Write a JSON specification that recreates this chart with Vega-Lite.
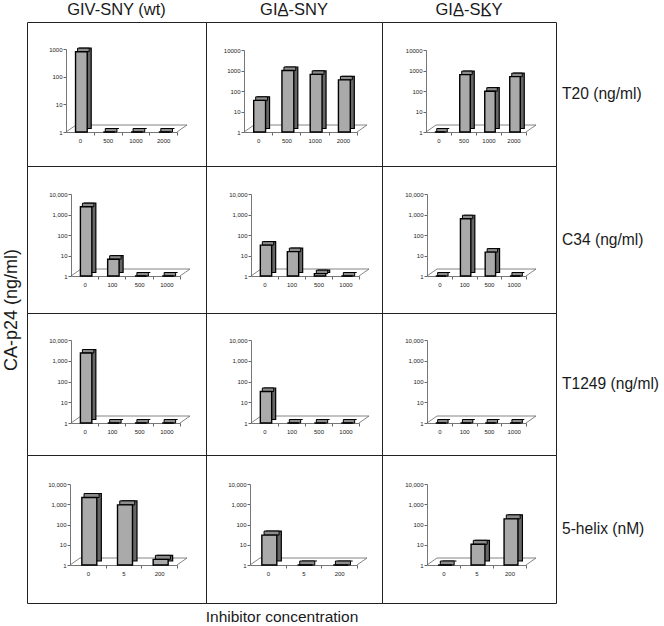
{
 "$schema": "https://vega.github.io/schema/vega-lite/v6.json",
 "padding": {"left": 2, "top": 1, "right": 0, "bottom": 0},
 "title": {"text": "CA-p24 (ng/ml)", "orient": "left", "anchor": "middle", "fontSize": 18, "fontWeight": "normal", "offset": 6, "dx": 4, "color": "#1a1a1a", "font": "Liberation Sans"},
 "datasets": {
  "d": [
   {"inh": "T20", "virus": "wt", "conc": "0", "p24": 800},
   {"inh": "T20", "virus": "wt", "conc": "500", "p24": 1},
   {"inh": "T20", "virus": "wt", "conc": "1000", "p24": 1},
   {"inh": "T20", "virus": "wt", "conc": "2000", "p24": 1},
   {"inh": "T20", "virus": "SNY", "conc": "0", "p24": 35},
   {"inh": "T20", "virus": "SNY", "conc": "500", "p24": 1000},
   {"inh": "T20", "virus": "SNY", "conc": "1000", "p24": 650},
   {"inh": "T20", "virus": "SNY", "conc": "2000", "p24": 350},
   {"inh": "T20", "virus": "SKY", "conc": "0", "p24": 1},
   {"inh": "T20", "virus": "SKY", "conc": "500", "p24": 630},
   {"inh": "T20", "virus": "SKY", "conc": "1000", "p24": 98},
   {"inh": "T20", "virus": "SKY", "conc": "2000", "p24": 500},
   {"inh": "C34", "virus": "wt", "conc": "0", "p24": 2400},
   {"inh": "C34", "virus": "wt", "conc": "100", "p24": 6.6},
   {"inh": "C34", "virus": "wt", "conc": "500", "p24": 1},
   {"inh": "C34", "virus": "wt", "conc": "1000", "p24": 1},
   {"inh": "C34", "virus": "SNY", "conc": "0", "p24": 32},
   {"inh": "C34", "virus": "SNY", "conc": "100", "p24": 15.5},
   {"inh": "C34", "virus": "SNY", "conc": "500", "p24": 1.3},
   {"inh": "C34", "virus": "SNY", "conc": "1000", "p24": 1},
   {"inh": "C34", "virus": "SKY", "conc": "0", "p24": 1},
   {"inh": "C34", "virus": "SKY", "conc": "100", "p24": 620},
   {"inh": "C34", "virus": "SKY", "conc": "500", "p24": 14.6},
   {"inh": "C34", "virus": "SKY", "conc": "1000", "p24": 1},
   {"inh": "T1249", "virus": "wt", "conc": "0", "p24": 2350},
   {"inh": "T1249", "virus": "wt", "conc": "100", "p24": 1},
   {"inh": "T1249", "virus": "wt", "conc": "500", "p24": 1},
   {"inh": "T1249", "virus": "wt", "conc": "1000", "p24": 1},
   {"inh": "T1249", "virus": "SNY", "conc": "0", "p24": 33},
   {"inh": "T1249", "virus": "SNY", "conc": "100", "p24": 1},
   {"inh": "T1249", "virus": "SNY", "conc": "500", "p24": 1},
   {"inh": "T1249", "virus": "SNY", "conc": "1000", "p24": 1},
   {"inh": "T1249", "virus": "SKY", "conc": "0", "p24": 1},
   {"inh": "T1249", "virus": "SKY", "conc": "100", "p24": 1},
   {"inh": "T1249", "virus": "SKY", "conc": "500", "p24": 1},
   {"inh": "T1249", "virus": "SKY", "conc": "1000", "p24": 1},
   {"inh": "5-helix", "virus": "wt", "conc": "0", "p24": 2150},
   {"inh": "5-helix", "virus": "wt", "conc": "5", "p24": 930},
   {"inh": "5-helix", "virus": "wt", "conc": "200", "p24": 1.9},
   {"inh": "5-helix", "virus": "SNY", "conc": "0", "p24": 30},
   {"inh": "5-helix", "virus": "SNY", "conc": "5", "p24": 1},
   {"inh": "5-helix", "virus": "SNY", "conc": "200", "p24": 1},
   {"inh": "5-helix", "virus": "SKY", "conc": "0", "p24": 1},
   {"inh": "5-helix", "virus": "SKY", "conc": "5", "p24": 10.5},
   {"inh": "5-helix", "virus": "SKY", "conc": "200", "p24": 190}
  ]
 },
 "columns": 4,
 "bounds": "flush",
 "spacing": 0,
 "align": "each",
 "concat": [
   {"width": 179, "height": 144, "title": {"text": "GIV-SNY (wt)"}, "data": {"name": "d"}, "transform": [{"filter": "datum.inh == 'T20' && datum.virus == 'wt'"}],
    "encoding": {
     "x": {"field": "conc", "type": "ordinal", "title": null, "scale": {"domain": ["0","500","1000","2000"], "range": [39,150], "paddingInner": 0, "paddingOuter": 0}, "axis": {"offset": -34, "tickOffset": 13.9, "labelOffset": -13.9}},
     "y": {"field": "p24", "type": "quantitative", "title": null, "scale": {"type": "log", "domain": [1,1000], "range": [110,27], "nice": false}, "axis": {"offset": -39, "values": [1,10,100,1000], "format": "d"}}},
    "layer": [
     {"transform": [{"filter": "datum.conc == '0'"}], "mark": {"type": "rule", "xOffset": 10, "x2Offset": 10, "yOffset": -7, "color": "#666", "strokeWidth": 0.8}, "encoding": {"x": {"datum": "0", "type": "ordinal", "bandPosition": 0, "title": null}, "x2": {"datum": "2000", "bandPosition": 1}, "y": {"datum": 1, "type": "quantitative", "title": null}}},
     {"transform": [{"filter": "datum.conc == '0'"}], "mark": {"type": "rule", "x2Offset": 10, "y2Offset": -7, "color": "#666", "strokeWidth": 0.8}, "encoding": {"x": {"datum": "0", "type": "ordinal", "bandPosition": 0, "title": null}, "x2": {"datum": "0", "bandPosition": 0}, "y": {"datum": 1, "type": "quantitative", "title": null}, "y2": {"datum": 1}}},
     {"transform": [{"filter": "datum.conc == '0'"}], "mark": {"type": "rule", "x2Offset": 10, "y2Offset": -7, "color": "#666", "strokeWidth": 0.8}, "encoding": {"x": {"datum": "2000", "type": "ordinal", "bandPosition": 1, "title": null}, "x2": {"datum": "2000", "bandPosition": 1}, "y": {"datum": 1, "type": "quantitative", "title": null}, "y2": {"datum": 1}}},
     {"mark": {"type": "bar", "width": {"band": 0.42}, "xOffset": 5.5, "yOffset": -3.5, "y2Offset": -3.5, "fill": "#666", "stroke": "#000", "strokeWidth": 1.2}, "encoding": {"y2": {"datum": 1}}},
     {"mark": {"type": "bar", "width": {"band": 0.42}, "xOffset": 3.5, "y2Offset": -3.5, "fill": "#8c8c8c", "stroke": "#000", "strokeWidth": 1}, "encoding": {"y2": {"field": "p24"}}},
     {"mark": {"type": "bar", "width": {"band": 0.42}, "xOffset": 1.5, "fill": "#aaa", "stroke": "#000", "strokeWidth": 1.4}, "encoding": {"y2": {"datum": 1}}}
    ]},
   {"width": 176, "height": 144, "title": {"text": "GIA̲-SNY"}, "data": {"name": "d"}, "transform": [{"filter": "datum.inh == 'T20' && datum.virus == 'SNY'"}],
    "encoding": {
     "x": {"field": "conc", "type": "ordinal", "title": null, "scale": {"domain": ["0","500","1000","2000"], "range": [38,151], "paddingInner": 0, "paddingOuter": 0}, "axis": {"offset": -34, "tickOffset": 14.1, "labelOffset": -14.1}},
     "y": {"field": "p24", "type": "quantitative", "title": null, "scale": {"type": "log", "domain": [1,10000], "range": [110,28], "nice": false}, "axis": {"offset": -38, "values": [1,10,100,1000,10000], "format": "d"}}},
    "layer": [
     {"transform": [{"filter": "datum.conc == '0'"}], "mark": {"type": "rule", "xOffset": 10, "x2Offset": 10, "yOffset": -7, "color": "#666", "strokeWidth": 0.8}, "encoding": {"x": {"datum": "0", "type": "ordinal", "bandPosition": 0, "title": null}, "x2": {"datum": "2000", "bandPosition": 1}, "y": {"datum": 1, "type": "quantitative", "title": null}}},
     {"transform": [{"filter": "datum.conc == '0'"}], "mark": {"type": "rule", "x2Offset": 10, "y2Offset": -7, "color": "#666", "strokeWidth": 0.8}, "encoding": {"x": {"datum": "0", "type": "ordinal", "bandPosition": 0, "title": null}, "x2": {"datum": "0", "bandPosition": 0}, "y": {"datum": 1, "type": "quantitative", "title": null}, "y2": {"datum": 1}}},
     {"transform": [{"filter": "datum.conc == '0'"}], "mark": {"type": "rule", "x2Offset": 10, "y2Offset": -7, "color": "#666", "strokeWidth": 0.8}, "encoding": {"x": {"datum": "2000", "type": "ordinal", "bandPosition": 1, "title": null}, "x2": {"datum": "2000", "bandPosition": 1}, "y": {"datum": 1, "type": "quantitative", "title": null}, "y2": {"datum": 1}}},
     {"mark": {"type": "bar", "width": {"band": 0.42}, "xOffset": 5.5, "yOffset": -3.5, "y2Offset": -3.5, "fill": "#666", "stroke": "#000", "strokeWidth": 1.2}, "encoding": {"y2": {"datum": 1}}},
     {"mark": {"type": "bar", "width": {"band": 0.42}, "xOffset": 3.5, "y2Offset": -3.5, "fill": "#8c8c8c", "stroke": "#000", "strokeWidth": 1}, "encoding": {"y2": {"field": "p24"}}},
     {"mark": {"type": "bar", "width": {"band": 0.42}, "xOffset": 1.5, "fill": "#aaa", "stroke": "#000", "strokeWidth": 1.4}, "encoding": {"y2": {"datum": 1}}}
    ]},
   {"width": 174, "height": 144, "title": {"text": "GIA̲-SK̲Y"}, "data": {"name": "d"}, "transform": [{"filter": "datum.inh == 'T20' && datum.virus == 'SKY'"}],
    "encoding": {
     "x": {"field": "conc", "type": "ordinal", "title": null, "scale": {"domain": ["0","500","1000","2000"], "range": [44,144], "paddingInner": 0, "paddingOuter": 0}, "axis": {"offset": -34, "tickOffset": 12.5, "labelOffset": -12.5}},
     "y": {"field": "p24", "type": "quantitative", "title": null, "scale": {"type": "log", "domain": [1,10000], "range": [110,28], "nice": false}, "axis": {"offset": -44, "values": [1,10,100,1000,10000], "format": "d"}}},
    "layer": [
     {"transform": [{"filter": "datum.conc == '0'"}], "mark": {"type": "rule", "xOffset": 10, "x2Offset": 10, "yOffset": -7, "color": "#666", "strokeWidth": 0.8}, "encoding": {"x": {"datum": "0", "type": "ordinal", "bandPosition": 0, "title": null}, "x2": {"datum": "2000", "bandPosition": 1}, "y": {"datum": 1, "type": "quantitative", "title": null}}},
     {"transform": [{"filter": "datum.conc == '0'"}], "mark": {"type": "rule", "x2Offset": 10, "y2Offset": -7, "color": "#666", "strokeWidth": 0.8}, "encoding": {"x": {"datum": "0", "type": "ordinal", "bandPosition": 0, "title": null}, "x2": {"datum": "0", "bandPosition": 0}, "y": {"datum": 1, "type": "quantitative", "title": null}, "y2": {"datum": 1}}},
     {"transform": [{"filter": "datum.conc == '0'"}], "mark": {"type": "rule", "x2Offset": 10, "y2Offset": -7, "color": "#666", "strokeWidth": 0.8}, "encoding": {"x": {"datum": "2000", "type": "ordinal", "bandPosition": 1, "title": null}, "x2": {"datum": "2000", "bandPosition": 1}, "y": {"datum": 1, "type": "quantitative", "title": null}, "y2": {"datum": 1}}},
     {"mark": {"type": "bar", "width": {"band": 0.42}, "xOffset": 5.5, "yOffset": -3.5, "y2Offset": -3.5, "fill": "#666", "stroke": "#000", "strokeWidth": 1.2}, "encoding": {"y2": {"datum": 1}}},
     {"mark": {"type": "bar", "width": {"band": 0.42}, "xOffset": 3.5, "y2Offset": -3.5, "fill": "#8c8c8c", "stroke": "#000", "strokeWidth": 1}, "encoding": {"y2": {"field": "p24"}}},
     {"mark": {"type": "bar", "width": {"band": 0.42}, "xOffset": 1.5, "fill": "#aaa", "stroke": "#000", "strokeWidth": 1.4}, "encoding": {"y2": {"datum": 1}}}
    ]},
   {"width": 105, "height": 144, "view": {"stroke": null}, "data": {"values": [{"label": "T20 (ng/ml)"}]}, "mark": {"type": "text", "fontSize": 15.6, "align": "left", "dx": -46.5}, "encoding": {"text": {"field": "label"}}},
   {"width": 179, "height": 147, "data": {"name": "d"}, "transform": [{"filter": "datum.inh == 'C34' && datum.virus == 'wt'"}],
    "encoding": {
     "x": {"field": "conc", "type": "ordinal", "title": null, "scale": {"domain": ["0","100","500","1000"], "range": [44,153], "paddingInner": 0, "paddingOuter": 0}, "axis": {"offset": -37, "tickOffset": 13.6, "labelOffset": -13.6}},
     "y": {"field": "p24", "type": "quantitative", "title": null, "scale": {"type": "log", "domain": [1,10000], "range": [110,28], "nice": false}, "axis": {"offset": -44, "values": [1,10,100,1000,10000], "format": ",d"}}},
    "layer": [
     {"transform": [{"filter": "datum.conc == '0'"}], "mark": {"type": "rule", "xOffset": 10, "x2Offset": 10, "yOffset": -7, "color": "#666", "strokeWidth": 0.8}, "encoding": {"x": {"datum": "0", "type": "ordinal", "bandPosition": 0, "title": null}, "x2": {"datum": "1000", "bandPosition": 1}, "y": {"datum": 1, "type": "quantitative", "title": null}}},
     {"transform": [{"filter": "datum.conc == '0'"}], "mark": {"type": "rule", "x2Offset": 10, "y2Offset": -7, "color": "#666", "strokeWidth": 0.8}, "encoding": {"x": {"datum": "0", "type": "ordinal", "bandPosition": 0, "title": null}, "x2": {"datum": "0", "bandPosition": 0}, "y": {"datum": 1, "type": "quantitative", "title": null}, "y2": {"datum": 1}}},
     {"transform": [{"filter": "datum.conc == '0'"}], "mark": {"type": "rule", "x2Offset": 10, "y2Offset": -7, "color": "#666", "strokeWidth": 0.8}, "encoding": {"x": {"datum": "1000", "type": "ordinal", "bandPosition": 1, "title": null}, "x2": {"datum": "1000", "bandPosition": 1}, "y": {"datum": 1, "type": "quantitative", "title": null}, "y2": {"datum": 1}}},
     {"mark": {"type": "bar", "width": {"band": 0.42}, "xOffset": 5.5, "yOffset": -3.5, "y2Offset": -3.5, "fill": "#666", "stroke": "#000", "strokeWidth": 1.2}, "encoding": {"y2": {"datum": 1}}},
     {"mark": {"type": "bar", "width": {"band": 0.42}, "xOffset": 3.5, "y2Offset": -3.5, "fill": "#8c8c8c", "stroke": "#000", "strokeWidth": 1}, "encoding": {"y2": {"field": "p24"}}},
     {"mark": {"type": "bar", "width": {"band": 0.42}, "xOffset": 1.5, "fill": "#aaa", "stroke": "#000", "strokeWidth": 1.4}, "encoding": {"y2": {"datum": 1}}}
    ]},
   {"width": 176, "height": 147, "data": {"name": "d"}, "transform": [{"filter": "datum.inh == 'C34' && datum.virus == 'SNY'"}],
    "encoding": {
     "x": {"field": "conc", "type": "ordinal", "title": null, "scale": {"domain": ["0","100","500","1000"], "range": [45,153], "paddingInner": 0, "paddingOuter": 0}, "axis": {"offset": -37, "tickOffset": 13.5, "labelOffset": -13.5}},
     "y": {"field": "p24", "type": "quantitative", "title": null, "scale": {"type": "log", "domain": [1,10000], "range": [110,28], "nice": false}, "axis": {"offset": -45, "values": [1,10,100,1000,10000], "format": ",d"}}},
    "layer": [
     {"transform": [{"filter": "datum.conc == '0'"}], "mark": {"type": "rule", "xOffset": 10, "x2Offset": 10, "yOffset": -7, "color": "#666", "strokeWidth": 0.8}, "encoding": {"x": {"datum": "0", "type": "ordinal", "bandPosition": 0, "title": null}, "x2": {"datum": "1000", "bandPosition": 1}, "y": {"datum": 1, "type": "quantitative", "title": null}}},
     {"transform": [{"filter": "datum.conc == '0'"}], "mark": {"type": "rule", "x2Offset": 10, "y2Offset": -7, "color": "#666", "strokeWidth": 0.8}, "encoding": {"x": {"datum": "0", "type": "ordinal", "bandPosition": 0, "title": null}, "x2": {"datum": "0", "bandPosition": 0}, "y": {"datum": 1, "type": "quantitative", "title": null}, "y2": {"datum": 1}}},
     {"transform": [{"filter": "datum.conc == '0'"}], "mark": {"type": "rule", "x2Offset": 10, "y2Offset": -7, "color": "#666", "strokeWidth": 0.8}, "encoding": {"x": {"datum": "1000", "type": "ordinal", "bandPosition": 1, "title": null}, "x2": {"datum": "1000", "bandPosition": 1}, "y": {"datum": 1, "type": "quantitative", "title": null}, "y2": {"datum": 1}}},
     {"mark": {"type": "bar", "width": {"band": 0.42}, "xOffset": 5.5, "yOffset": -3.5, "y2Offset": -3.5, "fill": "#666", "stroke": "#000", "strokeWidth": 1.2}, "encoding": {"y2": {"datum": 1}}},
     {"mark": {"type": "bar", "width": {"band": 0.42}, "xOffset": 3.5, "y2Offset": -3.5, "fill": "#8c8c8c", "stroke": "#000", "strokeWidth": 1}, "encoding": {"y2": {"field": "p24"}}},
     {"mark": {"type": "bar", "width": {"band": 0.42}, "xOffset": 1.5, "fill": "#aaa", "stroke": "#000", "strokeWidth": 1.4}, "encoding": {"y2": {"datum": 1}}}
    ]},
   {"width": 174, "height": 147, "data": {"name": "d"}, "transform": [{"filter": "datum.inh == 'C34' && datum.virus == 'SKY'"}],
    "encoding": {
     "x": {"field": "conc", "type": "ordinal", "title": null, "scale": {"domain": ["0","100","500","1000"], "range": [45,144], "paddingInner": 0, "paddingOuter": 0}, "axis": {"offset": -37, "tickOffset": 12.4, "labelOffset": -12.4}},
     "y": {"field": "p24", "type": "quantitative", "title": null, "scale": {"type": "log", "domain": [1,10000], "range": [110,28], "nice": false}, "axis": {"offset": -45, "values": [1,10,100,1000,10000], "format": ",d"}}},
    "layer": [
     {"transform": [{"filter": "datum.conc == '0'"}], "mark": {"type": "rule", "xOffset": 10, "x2Offset": 10, "yOffset": -7, "color": "#666", "strokeWidth": 0.8}, "encoding": {"x": {"datum": "0", "type": "ordinal", "bandPosition": 0, "title": null}, "x2": {"datum": "1000", "bandPosition": 1}, "y": {"datum": 1, "type": "quantitative", "title": null}}},
     {"transform": [{"filter": "datum.conc == '0'"}], "mark": {"type": "rule", "x2Offset": 10, "y2Offset": -7, "color": "#666", "strokeWidth": 0.8}, "encoding": {"x": {"datum": "0", "type": "ordinal", "bandPosition": 0, "title": null}, "x2": {"datum": "0", "bandPosition": 0}, "y": {"datum": 1, "type": "quantitative", "title": null}, "y2": {"datum": 1}}},
     {"transform": [{"filter": "datum.conc == '0'"}], "mark": {"type": "rule", "x2Offset": 10, "y2Offset": -7, "color": "#666", "strokeWidth": 0.8}, "encoding": {"x": {"datum": "1000", "type": "ordinal", "bandPosition": 1, "title": null}, "x2": {"datum": "1000", "bandPosition": 1}, "y": {"datum": 1, "type": "quantitative", "title": null}, "y2": {"datum": 1}}},
     {"mark": {"type": "bar", "width": {"band": 0.42}, "xOffset": 5.5, "yOffset": -3.5, "y2Offset": -3.5, "fill": "#666", "stroke": "#000", "strokeWidth": 1.2}, "encoding": {"y2": {"datum": 1}}},
     {"mark": {"type": "bar", "width": {"band": 0.42}, "xOffset": 3.5, "y2Offset": -3.5, "fill": "#8c8c8c", "stroke": "#000", "strokeWidth": 1}, "encoding": {"y2": {"field": "p24"}}},
     {"mark": {"type": "bar", "width": {"band": 0.42}, "xOffset": 1.5, "fill": "#aaa", "stroke": "#000", "strokeWidth": 1.4}, "encoding": {"y2": {"datum": 1}}}
    ]},
   {"width": 105, "height": 147, "view": {"stroke": null}, "data": {"values": [{"label": "C34 (ng/ml)"}]}, "mark": {"type": "text", "fontSize": 15.6, "align": "left", "dx": -46.5}, "encoding": {"text": {"field": "label"}}},
   {"width": 179, "height": 142, "data": {"name": "d"}, "transform": [{"filter": "datum.inh == 'T1249' && datum.virus == 'wt'"}],
    "encoding": {
     "x": {"field": "conc", "type": "ordinal", "title": null, "scale": {"domain": ["0","100","500","1000"], "range": [44,153], "paddingInner": 0, "paddingOuter": 0}, "axis": {"offset": -32, "tickOffset": 13.6, "labelOffset": -13.6}},
     "y": {"field": "p24", "type": "quantitative", "title": null, "scale": {"type": "log", "domain": [1,10000], "range": [110,27], "nice": false}, "axis": {"offset": -44, "values": [1,10,100,1000,10000], "format": ",d"}}},
    "layer": [
     {"transform": [{"filter": "datum.conc == '0'"}], "mark": {"type": "rule", "xOffset": 10, "x2Offset": 10, "yOffset": -7, "color": "#666", "strokeWidth": 0.8}, "encoding": {"x": {"datum": "0", "type": "ordinal", "bandPosition": 0, "title": null}, "x2": {"datum": "1000", "bandPosition": 1}, "y": {"datum": 1, "type": "quantitative", "title": null}}},
     {"transform": [{"filter": "datum.conc == '0'"}], "mark": {"type": "rule", "x2Offset": 10, "y2Offset": -7, "color": "#666", "strokeWidth": 0.8}, "encoding": {"x": {"datum": "0", "type": "ordinal", "bandPosition": 0, "title": null}, "x2": {"datum": "0", "bandPosition": 0}, "y": {"datum": 1, "type": "quantitative", "title": null}, "y2": {"datum": 1}}},
     {"transform": [{"filter": "datum.conc == '0'"}], "mark": {"type": "rule", "x2Offset": 10, "y2Offset": -7, "color": "#666", "strokeWidth": 0.8}, "encoding": {"x": {"datum": "1000", "type": "ordinal", "bandPosition": 1, "title": null}, "x2": {"datum": "1000", "bandPosition": 1}, "y": {"datum": 1, "type": "quantitative", "title": null}, "y2": {"datum": 1}}},
     {"mark": {"type": "bar", "width": {"band": 0.42}, "xOffset": 5.5, "yOffset": -3.5, "y2Offset": -3.5, "fill": "#666", "stroke": "#000", "strokeWidth": 1.2}, "encoding": {"y2": {"datum": 1}}},
     {"mark": {"type": "bar", "width": {"band": 0.42}, "xOffset": 3.5, "y2Offset": -3.5, "fill": "#8c8c8c", "stroke": "#000", "strokeWidth": 1}, "encoding": {"y2": {"field": "p24"}}},
     {"mark": {"type": "bar", "width": {"band": 0.42}, "xOffset": 1.5, "fill": "#aaa", "stroke": "#000", "strokeWidth": 1.4}, "encoding": {"y2": {"datum": 1}}}
    ]},
   {"width": 176, "height": 142, "data": {"name": "d"}, "transform": [{"filter": "datum.inh == 'T1249' && datum.virus == 'SNY'"}],
    "encoding": {
     "x": {"field": "conc", "type": "ordinal", "title": null, "scale": {"domain": ["0","100","500","1000"], "range": [45,153], "paddingInner": 0, "paddingOuter": 0}, "axis": {"offset": -32, "tickOffset": 13.5, "labelOffset": -13.5}},
     "y": {"field": "p24", "type": "quantitative", "title": null, "scale": {"type": "log", "domain": [1,10000], "range": [110,27], "nice": false}, "axis": {"offset": -45, "values": [1,10,100,1000,10000], "format": ",d"}}},
    "layer": [
     {"transform": [{"filter": "datum.conc == '0'"}], "mark": {"type": "rule", "xOffset": 10, "x2Offset": 10, "yOffset": -7, "color": "#666", "strokeWidth": 0.8}, "encoding": {"x": {"datum": "0", "type": "ordinal", "bandPosition": 0, "title": null}, "x2": {"datum": "1000", "bandPosition": 1}, "y": {"datum": 1, "type": "quantitative", "title": null}}},
     {"transform": [{"filter": "datum.conc == '0'"}], "mark": {"type": "rule", "x2Offset": 10, "y2Offset": -7, "color": "#666", "strokeWidth": 0.8}, "encoding": {"x": {"datum": "0", "type": "ordinal", "bandPosition": 0, "title": null}, "x2": {"datum": "0", "bandPosition": 0}, "y": {"datum": 1, "type": "quantitative", "title": null}, "y2": {"datum": 1}}},
     {"transform": [{"filter": "datum.conc == '0'"}], "mark": {"type": "rule", "x2Offset": 10, "y2Offset": -7, "color": "#666", "strokeWidth": 0.8}, "encoding": {"x": {"datum": "1000", "type": "ordinal", "bandPosition": 1, "title": null}, "x2": {"datum": "1000", "bandPosition": 1}, "y": {"datum": 1, "type": "quantitative", "title": null}, "y2": {"datum": 1}}},
     {"mark": {"type": "bar", "width": {"band": 0.42}, "xOffset": 5.5, "yOffset": -3.5, "y2Offset": -3.5, "fill": "#666", "stroke": "#000", "strokeWidth": 1.2}, "encoding": {"y2": {"datum": 1}}},
     {"mark": {"type": "bar", "width": {"band": 0.42}, "xOffset": 3.5, "y2Offset": -3.5, "fill": "#8c8c8c", "stroke": "#000", "strokeWidth": 1}, "encoding": {"y2": {"field": "p24"}}},
     {"mark": {"type": "bar", "width": {"band": 0.42}, "xOffset": 1.5, "fill": "#aaa", "stroke": "#000", "strokeWidth": 1.4}, "encoding": {"y2": {"datum": 1}}}
    ]},
   {"width": 174, "height": 142, "data": {"name": "d"}, "transform": [{"filter": "datum.inh == 'T1249' && datum.virus == 'SKY'"}],
    "encoding": {
     "x": {"field": "conc", "type": "ordinal", "title": null, "scale": {"domain": ["0","100","500","1000"], "range": [45,144], "paddingInner": 0, "paddingOuter": 0}, "axis": {"offset": -32, "tickOffset": 12.4, "labelOffset": -12.4}},
     "y": {"field": "p24", "type": "quantitative", "title": null, "scale": {"type": "log", "domain": [1,10000], "range": [110,27], "nice": false}, "axis": {"offset": -45, "values": [1,10,100,1000,10000], "format": ",d"}}},
    "layer": [
     {"transform": [{"filter": "datum.conc == '0'"}], "mark": {"type": "rule", "xOffset": 10, "x2Offset": 10, "yOffset": -7, "color": "#666", "strokeWidth": 0.8}, "encoding": {"x": {"datum": "0", "type": "ordinal", "bandPosition": 0, "title": null}, "x2": {"datum": "1000", "bandPosition": 1}, "y": {"datum": 1, "type": "quantitative", "title": null}}},
     {"transform": [{"filter": "datum.conc == '0'"}], "mark": {"type": "rule", "x2Offset": 10, "y2Offset": -7, "color": "#666", "strokeWidth": 0.8}, "encoding": {"x": {"datum": "0", "type": "ordinal", "bandPosition": 0, "title": null}, "x2": {"datum": "0", "bandPosition": 0}, "y": {"datum": 1, "type": "quantitative", "title": null}, "y2": {"datum": 1}}},
     {"transform": [{"filter": "datum.conc == '0'"}], "mark": {"type": "rule", "x2Offset": 10, "y2Offset": -7, "color": "#666", "strokeWidth": 0.8}, "encoding": {"x": {"datum": "1000", "type": "ordinal", "bandPosition": 1, "title": null}, "x2": {"datum": "1000", "bandPosition": 1}, "y": {"datum": 1, "type": "quantitative", "title": null}, "y2": {"datum": 1}}},
     {"mark": {"type": "bar", "width": {"band": 0.42}, "xOffset": 5.5, "yOffset": -3.5, "y2Offset": -3.5, "fill": "#666", "stroke": "#000", "strokeWidth": 1.2}, "encoding": {"y2": {"datum": 1}}},
     {"mark": {"type": "bar", "width": {"band": 0.42}, "xOffset": 3.5, "y2Offset": -3.5, "fill": "#8c8c8c", "stroke": "#000", "strokeWidth": 1}, "encoding": {"y2": {"field": "p24"}}},
     {"mark": {"type": "bar", "width": {"band": 0.42}, "xOffset": 1.5, "fill": "#aaa", "stroke": "#000", "strokeWidth": 1.4}, "encoding": {"y2": {"datum": 1}}}
    ]},
   {"width": 105, "height": 142, "view": {"stroke": null}, "data": {"values": [{"label": "T1249 (ng/ml)"}]}, "mark": {"type": "text", "fontSize": 15.6, "align": "left", "dx": -46.5}, "encoding": {"text": {"field": "label"}}},
   {"width": 179, "height": 148, "data": {"name": "d"}, "transform": [{"filter": "datum.inh == '5-helix' && datum.virus == 'wt'"}],
    "encoding": {
     "x": {"field": "conc", "type": "ordinal", "title": null, "scale": {"domain": ["0","5","200"], "range": [43,150], "paddingInner": 0, "paddingOuter": 0}, "axis": {"offset": -38, "tickOffset": 17.8, "labelOffset": -17.8}},
     "y": {"field": "p24", "type": "quantitative", "title": null, "scale": {"type": "log", "domain": [1,10000], "range": [110,29], "nice": false}, "axis": {"offset": -43, "values": [1,10,100,1000,10000], "format": ",d"}}},
    "layer": [
     {"transform": [{"filter": "datum.conc == '0'"}], "mark": {"type": "rule", "xOffset": 10, "x2Offset": 10, "yOffset": -7, "color": "#666", "strokeWidth": 0.8}, "encoding": {"x": {"datum": "0", "type": "ordinal", "bandPosition": 0, "title": null}, "x2": {"datum": "200", "bandPosition": 1}, "y": {"datum": 1, "type": "quantitative", "title": null}}},
     {"transform": [{"filter": "datum.conc == '0'"}], "mark": {"type": "rule", "x2Offset": 10, "y2Offset": -7, "color": "#666", "strokeWidth": 0.8}, "encoding": {"x": {"datum": "0", "type": "ordinal", "bandPosition": 0, "title": null}, "x2": {"datum": "0", "bandPosition": 0}, "y": {"datum": 1, "type": "quantitative", "title": null}, "y2": {"datum": 1}}},
     {"transform": [{"filter": "datum.conc == '0'"}], "mark": {"type": "rule", "x2Offset": 10, "y2Offset": -7, "color": "#666", "strokeWidth": 0.8}, "encoding": {"x": {"datum": "200", "type": "ordinal", "bandPosition": 1, "title": null}, "x2": {"datum": "200", "bandPosition": 1}, "y": {"datum": 1, "type": "quantitative", "title": null}, "y2": {"datum": 1}}},
     {"mark": {"type": "bar", "width": {"band": 0.42}, "xOffset": 6, "yOffset": -4, "y2Offset": -4, "fill": "#666", "stroke": "#000", "strokeWidth": 1.2}, "encoding": {"y2": {"datum": 1}}},
     {"mark": {"type": "bar", "width": {"band": 0.42}, "xOffset": 3.75, "y2Offset": -4, "fill": "#8c8c8c", "stroke": "#000", "strokeWidth": 1}, "encoding": {"y2": {"field": "p24"}}},
     {"mark": {"type": "bar", "width": {"band": 0.42}, "xOffset": 1.5, "fill": "#aaa", "stroke": "#000", "strokeWidth": 1.4}, "encoding": {"y2": {"datum": 1}}}
    ]},
   {"width": 176, "height": 148, "data": {"name": "d"}, "transform": [{"filter": "datum.inh == '5-helix' && datum.virus == 'SNY'"}],
    "encoding": {
     "x": {"field": "conc", "type": "ordinal", "title": null, "scale": {"domain": ["0","5","200"], "range": [44,151], "paddingInner": 0, "paddingOuter": 0}, "axis": {"offset": -38, "tickOffset": 17.8, "labelOffset": -17.8}},
     "y": {"field": "p24", "type": "quantitative", "title": null, "scale": {"type": "log", "domain": [1,10000], "range": [110,29], "nice": false}, "axis": {"offset": -44, "values": [1,10,100,1000,10000], "format": ",d"}}},
    "layer": [
     {"transform": [{"filter": "datum.conc == '0'"}], "mark": {"type": "rule", "xOffset": 10, "x2Offset": 10, "yOffset": -7, "color": "#666", "strokeWidth": 0.8}, "encoding": {"x": {"datum": "0", "type": "ordinal", "bandPosition": 0, "title": null}, "x2": {"datum": "200", "bandPosition": 1}, "y": {"datum": 1, "type": "quantitative", "title": null}}},
     {"transform": [{"filter": "datum.conc == '0'"}], "mark": {"type": "rule", "x2Offset": 10, "y2Offset": -7, "color": "#666", "strokeWidth": 0.8}, "encoding": {"x": {"datum": "0", "type": "ordinal", "bandPosition": 0, "title": null}, "x2": {"datum": "0", "bandPosition": 0}, "y": {"datum": 1, "type": "quantitative", "title": null}, "y2": {"datum": 1}}},
     {"transform": [{"filter": "datum.conc == '0'"}], "mark": {"type": "rule", "x2Offset": 10, "y2Offset": -7, "color": "#666", "strokeWidth": 0.8}, "encoding": {"x": {"datum": "200", "type": "ordinal", "bandPosition": 1, "title": null}, "x2": {"datum": "200", "bandPosition": 1}, "y": {"datum": 1, "type": "quantitative", "title": null}, "y2": {"datum": 1}}},
     {"mark": {"type": "bar", "width": {"band": 0.42}, "xOffset": 6, "yOffset": -4, "y2Offset": -4, "fill": "#666", "stroke": "#000", "strokeWidth": 1.2}, "encoding": {"y2": {"datum": 1}}},
     {"mark": {"type": "bar", "width": {"band": 0.42}, "xOffset": 3.75, "y2Offset": -4, "fill": "#8c8c8c", "stroke": "#000", "strokeWidth": 1}, "encoding": {"y2": {"field": "p24"}}},
     {"mark": {"type": "bar", "width": {"band": 0.42}, "xOffset": 1.5, "fill": "#aaa", "stroke": "#000", "strokeWidth": 1.4}, "encoding": {"y2": {"datum": 1}}}
    ]},
   {"width": 174, "height": 148, "data": {"name": "d"}, "transform": [{"filter": "datum.inh == '5-helix' && datum.virus == 'SKY'"}],
    "encoding": {
     "x": {"field": "conc", "type": "ordinal", "title": null, "scale": {"domain": ["0","5","200"], "range": [45,144], "paddingInner": 0, "paddingOuter": 0}, "axis": {"offset": -38, "tickOffset": 16.5, "labelOffset": -16.5}},
     "y": {"field": "p24", "type": "quantitative", "title": null, "scale": {"type": "log", "domain": [1,10000], "range": [110,29], "nice": false}, "axis": {"offset": -45, "values": [1,10,100,1000,10000], "format": ",d"}}},
    "layer": [
     {"transform": [{"filter": "datum.conc == '0'"}], "mark": {"type": "rule", "xOffset": 10, "x2Offset": 10, "yOffset": -7, "color": "#666", "strokeWidth": 0.8}, "encoding": {"x": {"datum": "0", "type": "ordinal", "bandPosition": 0, "title": null}, "x2": {"datum": "200", "bandPosition": 1}, "y": {"datum": 1, "type": "quantitative", "title": null}}},
     {"transform": [{"filter": "datum.conc == '0'"}], "mark": {"type": "rule", "x2Offset": 10, "y2Offset": -7, "color": "#666", "strokeWidth": 0.8}, "encoding": {"x": {"datum": "0", "type": "ordinal", "bandPosition": 0, "title": null}, "x2": {"datum": "0", "bandPosition": 0}, "y": {"datum": 1, "type": "quantitative", "title": null}, "y2": {"datum": 1}}},
     {"transform": [{"filter": "datum.conc == '0'"}], "mark": {"type": "rule", "x2Offset": 10, "y2Offset": -7, "color": "#666", "strokeWidth": 0.8}, "encoding": {"x": {"datum": "200", "type": "ordinal", "bandPosition": 1, "title": null}, "x2": {"datum": "200", "bandPosition": 1}, "y": {"datum": 1, "type": "quantitative", "title": null}, "y2": {"datum": 1}}},
     {"mark": {"type": "bar", "width": {"band": 0.42}, "xOffset": 6, "yOffset": -4, "y2Offset": -4, "fill": "#666", "stroke": "#000", "strokeWidth": 1.2}, "encoding": {"y2": {"datum": 1}}},
     {"mark": {"type": "bar", "width": {"band": 0.42}, "xOffset": 3.75, "y2Offset": -4, "fill": "#8c8c8c", "stroke": "#000", "strokeWidth": 1}, "encoding": {"y2": {"field": "p24"}}},
     {"mark": {"type": "bar", "width": {"band": 0.42}, "xOffset": 1.5, "fill": "#aaa", "stroke": "#000", "strokeWidth": 1.4}, "encoding": {"y2": {"datum": 1}}}
    ]},
   {"width": 105, "height": 148, "view": {"stroke": null}, "data": {"values": [{"label": "5-helix (nM)"}]}, "mark": {"type": "text", "fontSize": 15.6, "align": "left", "dx": -46.5}, "encoding": {"text": {"field": "label"}}},
   {"width": 179, "height": 24, "view": {"stroke": null}, "data": {"values": [{"label": "Inhibitor concentration"}]}, "mark": {"type": "text", "fontSize": 15.5, "dx": 165.5, "dy": 2}, "encoding": {"text": {"field": "label"}}}
 ],
 "config": {
  "font": "Liberation Sans",
  "view": {"stroke": "#222", "strokeWidth": 1},
  "title": {"fontSize": 16.5, "fontWeight": "normal", "offset": 4, "color": "#1a1a1a", "font": "Liberation Sans"},
  "axis": {"labelFont": "Liberation Sans", "labelFontSize": 6, "labelColor": "#222", "tickColor": "#666", "tickSize": 3, "domainColor": "#777", "labelPadding": 1, "grid": false},
  "axisX": {"labelAngle": 0, "labelPadding": 2},
  "text": {"font": "Liberation Sans", "color": "#1a1a1a"}
 }
}
